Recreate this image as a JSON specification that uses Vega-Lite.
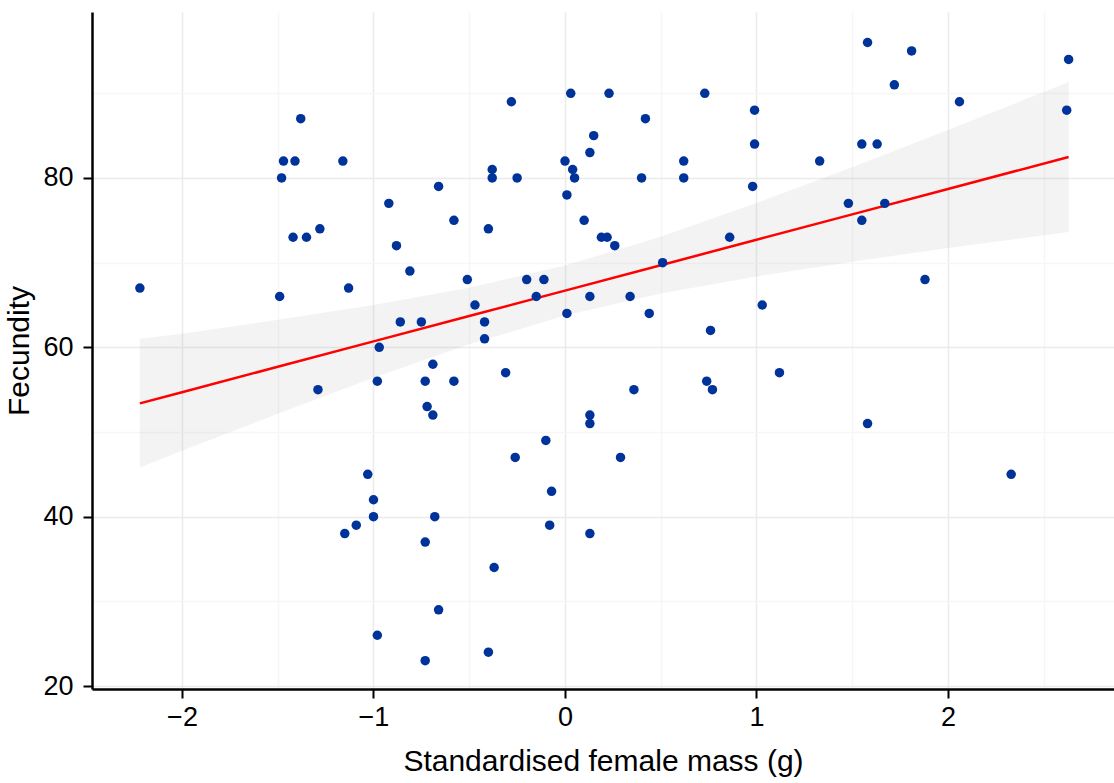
{
  "$schema": "https://vega.github.io/schema/vega-lite/v6.json",
  "width": 1022,
  "height": 677,
  "autosize": "none",
  "padding": {"left": 92, "top": 12, "right": 0, "bottom": 94},
  "background": "white",
  "config": {
    "view": {"stroke": null},
    "font": "Liberation Sans"
  },
  "datasets": {
    "pts": [
      {"mass": -2.22, "fec": 67}, {"mass": -1.49, "fec": 66}, {"mass": -1.48, "fec": 80}, {"mass": -1.47, "fec": 82},
      {"mass": -1.41, "fec": 82}, {"mass": -1.42, "fec": 73}, {"mass": -1.38, "fec": 87}, {"mass": -1.35, "fec": 73},
      {"mass": -1.28, "fec": 74}, {"mass": -1.29, "fec": 55}, {"mass": -1.16, "fec": 82}, {"mass": -1.13, "fec": 67},
      {"mass": -1.15, "fec": 38}, {"mass": -1.09, "fec": 39}, {"mass": -1.03, "fec": 45}, {"mass": -1.00, "fec": 42},
      {"mass": -1.00, "fec": 40}, {"mass": -0.98, "fec": 26}, {"mass": -0.97, "fec": 60}, {"mass": -0.98, "fec": 56},
      {"mass": -0.92, "fec": 77}, {"mass": -0.88, "fec": 72}, {"mass": -0.86, "fec": 63}, {"mass": -0.81, "fec": 69},
      {"mass": -0.75, "fec": 63}, {"mass": -0.73, "fec": 56}, {"mass": -0.72, "fec": 53}, {"mass": -0.73, "fec": 37},
      {"mass": -0.73, "fec": 23}, {"mass": -0.69, "fec": 52}, {"mass": -0.69, "fec": 58}, {"mass": -0.68, "fec": 40},
      {"mass": -0.66, "fec": 29}, {"mass": -0.66, "fec": 79}, {"mass": -0.58, "fec": 75}, {"mass": -0.58, "fec": 56},
      {"mass": -0.51, "fec": 68}, {"mass": -0.47, "fec": 65}, {"mass": -0.42, "fec": 63}, {"mass": -0.42, "fec": 61},
      {"mass": -0.38, "fec": 81}, {"mass": -0.38, "fec": 80}, {"mass": -0.40, "fec": 74}, {"mass": -0.40, "fec": 24},
      {"mass": -0.37, "fec": 34}, {"mass": -0.31, "fec": 57}, {"mass": -0.28, "fec": 89}, {"mass": -0.25, "fec": 80},
      {"mass": -0.26, "fec": 47}, {"mass": -0.20, "fec": 68}, {"mass": -0.15, "fec": 66}, {"mass": -0.11, "fec": 68},
      {"mass": -0.10, "fec": 49}, {"mass": -0.08, "fec": 39}, {"mass": -0.07, "fec": 43}, {"mass": 0.00, "fec": 82},
      {"mass": 0.01, "fec": 78}, {"mass": 0.01, "fec": 64}, {"mass": 0.03, "fec": 90}, {"mass": 0.04, "fec": 81},
      {"mass": 0.05, "fec": 80}, {"mass": 0.10, "fec": 75}, {"mass": 0.13, "fec": 83}, {"mass": 0.13, "fec": 66},
      {"mass": 0.13, "fec": 52}, {"mass": 0.13, "fec": 51}, {"mass": 0.13, "fec": 38}, {"mass": 0.15, "fec": 85},
      {"mass": 0.19, "fec": 73}, {"mass": 0.22, "fec": 73}, {"mass": 0.23, "fec": 90}, {"mass": 0.26, "fec": 72},
      {"mass": 0.29, "fec": 47}, {"mass": 0.34, "fec": 66}, {"mass": 0.36, "fec": 55}, {"mass": 0.40, "fec": 80},
      {"mass": 0.42, "fec": 87}, {"mass": 0.44, "fec": 64}, {"mass": 0.51, "fec": 70}, {"mass": 0.62, "fec": 82},
      {"mass": 0.62, "fec": 80}, {"mass": 0.73, "fec": 90}, {"mass": 0.74, "fec": 56}, {"mass": 0.76, "fec": 62},
      {"mass": 0.77, "fec": 55}, {"mass": 0.86, "fec": 73}, {"mass": 0.98, "fec": 79}, {"mass": 0.99, "fec": 88},
      {"mass": 0.99, "fec": 84}, {"mass": 1.03, "fec": 65}, {"mass": 1.12, "fec": 57}, {"mass": 1.33, "fec": 82},
      {"mass": 1.48, "fec": 77}, {"mass": 1.55, "fec": 84}, {"mass": 1.55, "fec": 75}, {"mass": 1.58, "fec": 96},
      {"mass": 1.58, "fec": 51}, {"mass": 1.63, "fec": 84}, {"mass": 1.67, "fec": 77}, {"mass": 1.72, "fec": 91},
      {"mass": 1.81, "fec": 95}, {"mass": 1.88, "fec": 68}, {"mass": 2.06, "fec": 89}, {"mass": 2.33, "fec": 45},
      {"mass": 2.62, "fec": 88}, {"mass": 2.63, "fec": 94}
    ],
    "band": [
      {"mass": -2.22, "fit": 53.38, "lo": 45.8, "hi": 61.0},
      {"mass": -2.0, "fit": 54.7, "lo": 47.8, "hi": 61.6},
      {"mass": -1.5, "fit": 57.7, "lo": 52.15, "hi": 63.25},
      {"mass": -1.0, "fit": 60.7, "lo": 56.4, "hi": 65.0},
      {"mass": -0.5, "fit": 63.7, "lo": 60.36, "hi": 67.04},
      {"mass": 0.0, "fit": 66.7, "lo": 63.75, "hi": 69.65},
      {"mass": 0.5, "fit": 69.7, "lo": 66.35, "hi": 73.05},
      {"mass": 1.0, "fit": 72.7, "lo": 68.37, "hi": 77.03},
      {"mass": 1.5, "fit": 75.7, "lo": 70.12, "hi": 81.28},
      {"mass": 2.0, "fit": 78.7, "lo": 71.73, "hi": 85.67},
      {"mass": 2.63, "fit": 82.48, "lo": 73.63, "hi": 91.33}
    ]
  },
  "layer": [
    {
      "data": {"name": "band"},
      "mark": {"type": "area", "color": "#999999", "opacity": 0.12},
      "encoding": {
        "x": {
          "field": "mass", "type": "quantitative",
          "scale": {"domain": [-2.47, 2.867], "nice": false, "zero": false},
          "axis": {
            "title": "Standardised female mass (g)",
            "values": [-2, -1.5, -1, -0.5, 0, 0.5, 1, 1.5, 2, 2.5],
            "format": "~g",
            "labelExpr": "datum.value % 1 === 0 ? datum.label : ''",
            "grid": true,
            "gridColor": {"condition": {"test": "datum.value % 1 !== 0", "value": "#f6f6f6"}, "value": "#ebebeb"},
            "gridWidth": 1.5,
            "domainColor": "black", "domainWidth": 2.5,
            "tickColor": "black", "tickWidth": 2, "tickSize": 9,
            "tickOpacity": {"condition": {"test": "datum.value % 1 !== 0", "value": 0}, "value": 1},
            "labelColor": "black", "labelFontSize": 27, "labelPadding": 6,
            "titleColor": "black", "titleFontSize": 30, "titleFontWeight": "normal", "titlePadding": 16
          }
        },
        "y": {
          "field": "lo", "type": "quantitative",
          "scale": {"domain": [19.65, 99.6], "nice": false, "zero": false},
          "axis": {
            "title": "Fecundity",
            "values": [20, 30, 40, 50, 60, 70, 80, 90],
            "format": "~g",
            "labelExpr": "datum.value % 20 === 0 ? datum.label : ''",
            "grid": true,
            "gridColor": {"condition": {"test": "datum.value % 20 !== 0", "value": "#f6f6f6"}, "value": "#ebebeb"},
            "gridWidth": 1.5,
            "domainColor": "black", "domainWidth": 2.5,
            "tickColor": "black", "tickWidth": 2, "tickSize": 9,
            "tickOpacity": {"condition": {"test": "datum.value % 20 !== 0", "value": 0}, "value": 1},
            "labelColor": "black", "labelFontSize": 27, "labelPadding": 10,
            "titleColor": "black", "titleFontSize": 30, "titleFontWeight": "normal", "titlePadding": 8
          }
        },
        "y2": {"field": "hi"}
      }
    },
    {
      "data": {"name": "band"},
      "mark": {"type": "line", "color": "#ff0000", "strokeWidth": 2.5},
      "encoding": {
        "x": {"field": "mass", "type": "quantitative"},
        "y": {"field": "fit", "type": "quantitative"}
      }
    },
    {
      "data": {"name": "pts"},
      "mark": {"type": "circle", "color": "#003399", "opacity": 1, "size": 90},
      "encoding": {
        "x": {"field": "mass", "type": "quantitative"},
        "y": {"field": "fec", "type": "quantitative"}
      }
    }
  ]
}
